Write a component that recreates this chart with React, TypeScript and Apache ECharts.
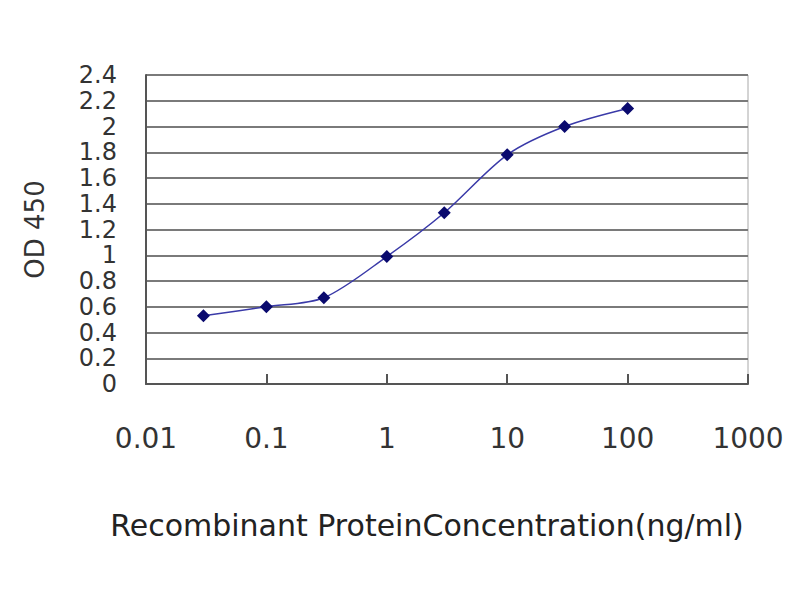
import React, { useEffect, useRef } from "react";
import * as echarts from "echarts";

const concentrations = [0.03, 0.1, 0.3, 1, 3, 10, 30, 100];
const odValues = [0.53, 0.6, 0.67, 0.99, 1.33, 1.78, 2.0, 2.14];
const xTickLabels = ["0.01", "0.1", "1", "10", "100", "1000"];
const yTickLabels = ["0", "0.2", "0.4", "0.6", "0.8", "1", "1.2", "1.4", "1.6", "1.8", "2", "2.2", "2.4"];
const xTitle = "Recombinant ProteinConcentration(ng/ml)";
const yTitle = "OD 450";

export default function App() {
  const ref = useRef<HTMLDivElement>(null);
  useEffect(() => {
    if (!ref.current) return;
    const chart = echarts.init(ref.current, null, { renderer: "svg" });
    const font = "DejaVu Sans";
    chart.setOption({
      animation: false,
      backgroundColor: "#ffffff",
      grid: {
        left: 146,
        top: 75,
        width: 602,
        height: 309,
        show: true,
        borderColor: "#a8a8a8",
        borderWidth: 1,
        backgroundColor: "#ffffff",
      },
      xAxis: {
        type: "log",
        logBase: 10,
        min: 0.01,
        max: 1000,
        name: xTitle,
        nameLocation: "middle",
        nameGap: 126,
        nameTextStyle: { fontFamily: font, fontSize: 30, color: "#222", padding: [0, 40, 0, 0] },
        axisLine: { show: true, lineStyle: { color: "#555", width: 2 } },
        axisTick: { show: true, inside: true, length: 10, lineStyle: { color: "#555", width: 2 } },
        splitLine: { show: false },
        axisLabel: {
          fontFamily: font,
          fontSize: 28,
          color: "#333",
          margin: 40,
          showMinLabel: true,
          showMaxLabel: true,
          formatter: (v: number) => {
            const idx = Math.round(Math.log10(v)) + 2;
            return xTickLabels[idx] ?? "";
          },
        },
      },
      yAxis: {
        type: "value",
        min: 0,
        max: 2.4,
        interval: 0.2,
        name: yTitle,
        nameLocation: "middle",
        nameGap: 98,
        nameTextStyle: { fontFamily: font, fontSize: 26, color: "#333" },
        axisLine: { show: true, lineStyle: { color: "#555", width: 2 } },
        axisTick: { show: false },
        splitLine: { show: true, lineStyle: { color: "#7a7a7a", width: 2 } },
        axisLabel: {
          fontFamily: font,
          fontSize: 24,
          lineHeight: 24,
          color: "#333",
          margin: 29,
          showMinLabel: true,
          showMaxLabel: true,
          hideOverlap: false,
          formatter: (v: number) => {
            const idx = Math.round(v / 0.2);
            return yTickLabels[idx] ?? "";
          },
        },
      },
      series: [
        {
          type: "line",
          data: concentrations.map((c, i) => [c, odValues[i]]),
          smooth: 0.3,
          symbol: "diamond",
          symbolSize: 13,
          itemStyle: { color: "#0a0a6e" },
          lineStyle: { color: "#3a3aa8", width: 1.5 },
        },
      ],
    });
    return () => chart.dispose();
  }, []);
  return (
    <div
      ref={ref}
      style={{ position: "fixed", left: 0, top: 0, width: 800, height: 600, background: "#fff" }}
    />
  );
}
